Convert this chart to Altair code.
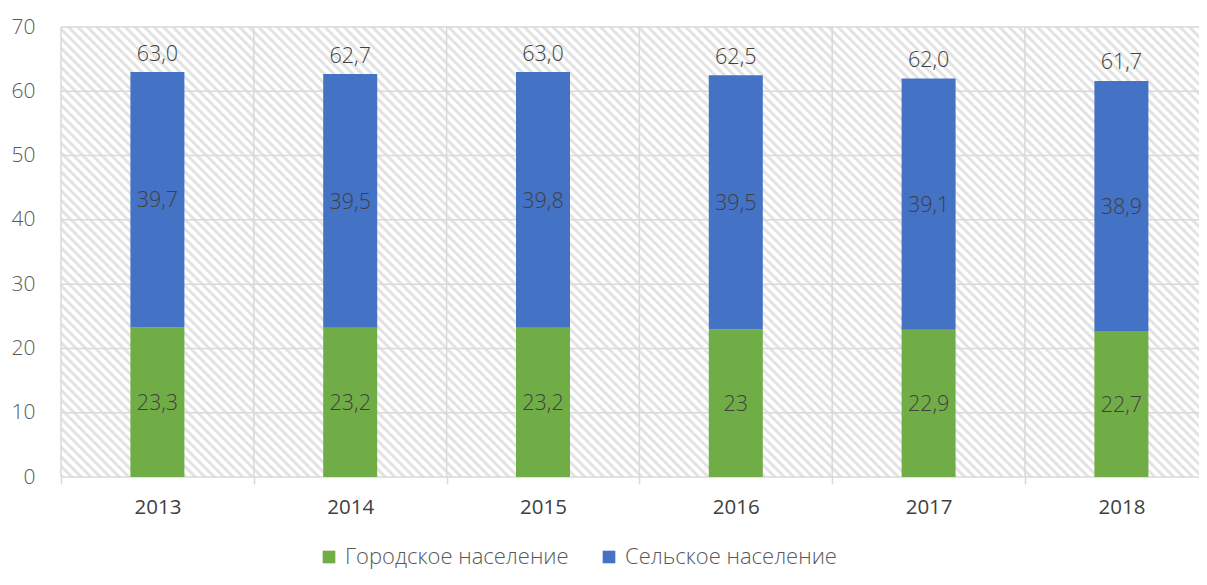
import json
import altair as alt
import pandas as pd

years = ["2013", "2014", "2015", "2016", "2017", "2018"]
urban = [23.3, 23.2, 23.2, 23.0, 22.9, 22.7]
rural = [39.7, 39.5, 39.8, 39.5, 39.1, 38.9]
totals = [63.0, 62.7, 63.0, 62.5, 62.0, 61.7]
urban_labels = ["23,3", "23,2", "23,2", "23", "22,9", "22,7"]
rural_labels = ["39,7", "39,5", "39,8", "39,5", "39,1", "38,9"]
total_labels = ["63,0", "62,7", "63,0", "62,5", "62,0", "61,7"]
series = ["Городское население", "Сельское население"]
colors = ["#70AD47", "#4472C4"]
y_ticks = [0, 10, 20, 30, 40, 50, 60, 70]

W, H = 1138, 450
STEP = 192.8          # pixel width of one category slot
FONT = "Open Sans"

centers = [i + 0.5 for i in range(len(years))]
bounds = list(range(len(years) + 1))

rows = []
for i, yr in enumerate(years):
    rows.append({"x": centers[i], "series": series[0], "value": urban[i], "order": 0,
                 "mid": urban[i] / 2, "label": urban_labels[i]})
    rows.append({"x": centers[i], "series": series[1], "value": rural[i], "order": 1,
                 "mid": urban[i] + rural[i] / 2, "label": rural_labels[i]})
df = pd.DataFrame(rows)
df_tot = pd.DataFrame({"x": centers, "total": totals, "label": total_labels})
df_hgrid = pd.DataFrame({"v": y_ticks})
df_vgrid = pd.DataFrame({"b": bounds})
df_bg = pd.DataFrame({"k": [0]})

# diagonal hatch as a striped linear gradient
a = W * (W + H) / (W * W + H * H)
b = -H * (W + H) / (W * W + H * H)
period = 9.5
p = period / (W + H)
n = int((W + H) / period) + 1
gray, white = "#e3e3e3", "#ffffff"
stops = []
for k in range(n):
    o = k * p
    for off, col in [(0, gray), (0.3, gray), (0.45, white), (0.85, white)]:
        stops.append(alt.GradientStop(offset=min(o + off * p, 1.0), color=col))
hatch = alt.LinearGradient(gradient="linear", stops=stops, x1=0, y1=1, x2=a, y2=1 + b)

xscale = alt.Scale(domain=[0, W / STEP], nice=False, zero=False, padding=0)
yscale = alt.Scale(domain=[0, 70], nice=False, zero=True, padding=0)

label_expr = "%s[floor(datum.value)]" % json.dumps(years)
xaxis = alt.Axis(title=None, grid=False, domain=False, ticks=True, values=bounds[:-1],
                 tickColor="#d9d9d9", tickWidth=1.5, tickSize=7,
                 labelExpr=label_expr, labelOffset=STEP / 2, labelFlush=False,
                 labelOverlap=False, labelBound=False, labelAngle=0, labelAlign="center",
                 labelFont=FONT, labelFontSize=20.5, labelColor="#404040",
                 labelPadding=13, labelBaseline="top")
yaxis = alt.Axis(title=None, grid=False, domain=False, ticks=False, tickSize=0,
                 values=y_ticks, labelFont=FONT, labelFontSize=21, labelFontWeight=300,
                 labelColor="#595959", labelPadding=26)

bg = alt.Chart(df_bg).mark_rect(color=hatch).encode(
    x=alt.value(0), x2=alt.value(W), y=alt.value(0), y2=alt.value(H))

hgrid = alt.Chart(df_hgrid).mark_rule(color="#d9d9d9", strokeWidth=1.5).encode(
    y=alt.Y("v:Q", scale=yscale, axis=yaxis))

vgrid = alt.Chart(df_vgrid).mark_rule(color="#d9d9d9", strokeWidth=1.5).encode(
    x=alt.X("b:Q", scale=xscale, axis=xaxis))

bars = alt.Chart(df).mark_bar(width=54).encode(
    x=alt.X("x:Q", scale=xscale, axis=xaxis),
    y=alt.Y("value:Q", stack="zero", scale=yscale, axis=yaxis),
    color=alt.Color("series:N", scale=alt.Scale(domain=series, range=colors),
                    legend=alt.Legend(title=None, orient="none", legendX=257, legendY=519,
                                      direction="horizontal", symbolType="square",
                                      symbolSize=160, symbolStrokeWidth=0,
                                      labelFont=FONT, labelFontSize=22, labelLimit=0,
                                      labelFontWeight=300, labelColor="#595959",
                                      labelOffset=5, columnPadding=29, padding=0)),
    order=alt.Order("order:Q"))

seg_text = alt.Chart(df).mark_text(font=FONT, fontSize=21.5, fontWeight=300,
                                   color="#404040", baseline="alphabetic", dy=7.8).encode(
    x=alt.X("x:Q", scale=xscale), y=alt.Y("mid:Q", scale=yscale), text="label:N")

tot_text = alt.Chart(df_tot).mark_text(font=FONT, fontSize=21.5, fontWeight=300,
                                       color="#404040", baseline="alphabetic", dy=-11).encode(
    x=alt.X("x:Q", scale=xscale), y=alt.Y("total:Q", scale=yscale), text="label:N")

chart = alt.layer(bg, hgrid, vgrid, bars, seg_text, tot_text).properties(
    width=W, height=H,
    autosize=alt.AutoSizeParams(type="none"),
    padding={"left": 53, "top": 19, "right": 0, "bottom": 95},
).configure_view(stroke=None)

chart.save("out.html", embed_options={"renderer": "svg", "actions": False})
